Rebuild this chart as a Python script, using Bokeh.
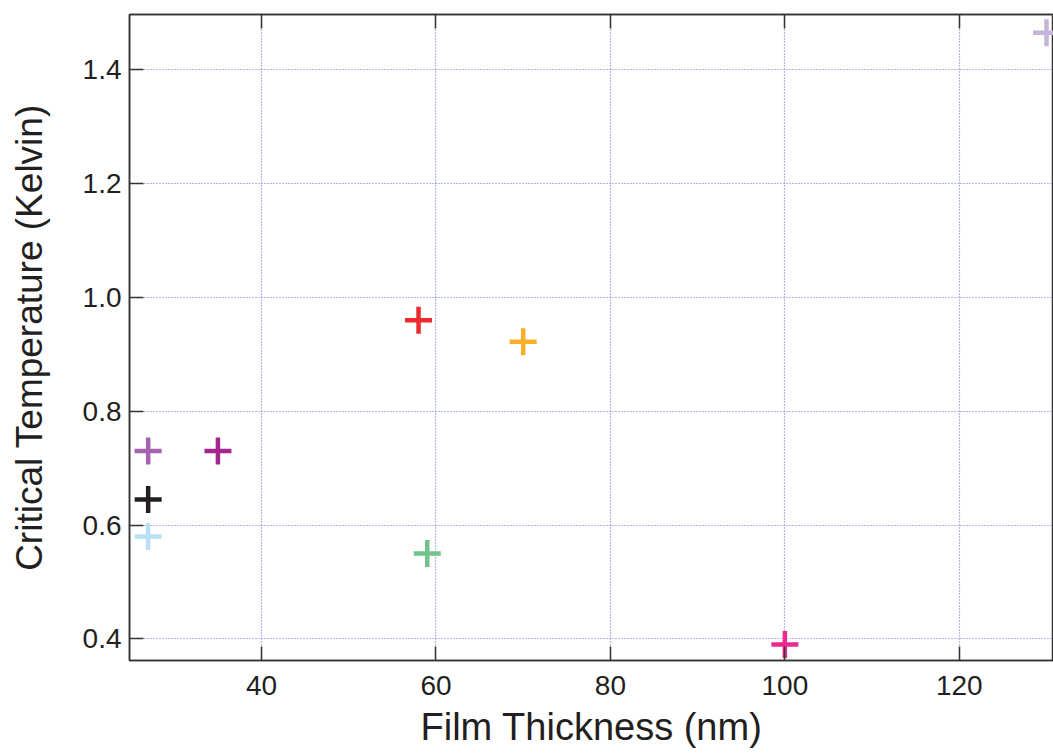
from bokeh.plotting import figure
from bokeh.models import LinearAxis, FixedTicker, PrintfTickFormatter, ColumnDataSource
from bokeh.embed import file_html
from bokeh.resources import INLINE

# Data
thickness_nm = [130, 58, 70, 27, 35, 27, 27, 59, 100]
critical_temp_K = [1.465, 0.96, 0.922, 0.73, 0.73, 0.645, 0.58, 0.55, 0.39]
point_colors = ["#C7B3DA", "#EC2B2F", "#F8AE2A", "#A563B1", "#A3278F",
                "#231F20", "#B8E0F6", "#72C38A", "#EC2A8E"]
x_ticks = [40, 60, 80, 100, 120]
y_ticks = [0.4, 0.6, 0.8, 1.0, 1.2, 1.4]

src = ColumnDataSource(dict(x=thickness_nm, y=critical_temp_K, c=point_colors))

FONT = "Liberation Sans"
TXT = "#231F20"
AX = "#333333"

p = figure(width=1053, height=753, x_range=(24.86, 130.8), y_range=(0.362, 1.497),
           output_backend="svg", toolbar_location=None,
           min_border_left=129, min_border_right=0, min_border_top=14, min_border_bottom=93)

p.outline_line_color = AX
p.outline_line_width = 1.5
p.background_fill_color = "white"
p.border_fill_color = "white"

for ax in (p.xaxis[0], p.yaxis[0]):
    ax.axis_line_color = AX
    ax.axis_line_width = 1.5
    ax.major_tick_line_color = AX
    ax.major_tick_line_width = 1.5
    ax.major_tick_in = 14
    ax.major_tick_out = 0
    ax.minor_tick_line_color = None
    ax.major_label_text_font = FONT
    ax.major_label_text_font_size = "28px"
    ax.major_label_text_color = TXT
    ax.axis_label_text_font = FONT
    ax.axis_label_text_font_style = "normal"
    ax.axis_label_text_color = TXT

p.xaxis[0].axis_label_text_font_size = "38px"
p.yaxis[0].axis_label_text_font_size = "37px"
p.xaxis[0].ticker = FixedTicker(ticks=x_ticks)
p.yaxis[0].ticker = FixedTicker(ticks=y_ticks)
p.xaxis[0].formatter = PrintfTickFormatter(format="%d")
p.yaxis[0].formatter = PrintfTickFormatter(format="%.1f")
p.xaxis[0].axis_label = "Film Thickness (nm)"
p.yaxis[0].axis_label = "Critical Temperature (Kelvin)"
p.xaxis[0].major_label_standoff = 15
p.xaxis[0].axis_label_standoff = 8
p.yaxis[0].major_label_standoff = 8
p.yaxis[0].axis_label_standoff = 30

top = LinearAxis(ticker=FixedTicker(ticks=x_ticks))
top.axis_line_color = AX
top.axis_line_width = 1.5
top.major_tick_line_color = AX
top.major_tick_line_width = 1.5
top.major_tick_in = 14
top.major_tick_out = 0
top.minor_tick_line_color = None
top.major_label_text_font_size = "0px"
top.major_label_text_alpha = 0
top.major_label_standoff = 0
p.add_layout(top, "above")

for g in (p.xgrid[0], p.ygrid[0]):
    g.grid_line_color = "#6A76CC"
    g.grid_line_dash = "1 2"
    g.grid_line_width = 1.2
p.xgrid[0].ticker = FixedTicker(ticks=x_ticks)
p.ygrid[0].ticker = FixedTicker(ticks=y_ticks)

p.scatter("x", "y", source=src, marker="cross", size=27, line_color="c", line_width=4.5)

open("out.html", "w").write(file_html(p, INLINE))
